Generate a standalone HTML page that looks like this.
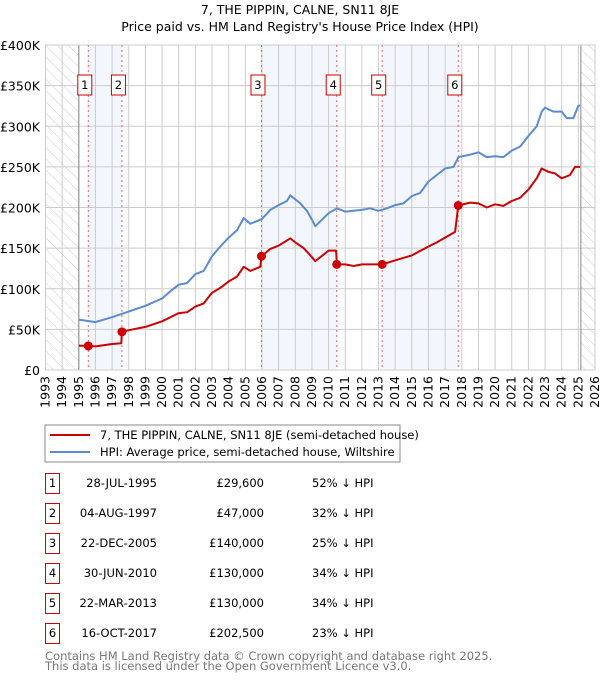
<!DOCTYPE html>
<html><head><meta charset="utf-8"><style>
body{margin:0;background:#fff;width:600px;height:680px;overflow:hidden;font-family:"DejaVu Sans","Liberation Sans",sans-serif}
svg text{font-family:"DejaVu Sans","Liberation Sans",sans-serif}
</style></head><body>
<svg id="c" width="600" height="680" xmlns="http://www.w3.org/2000/svg">
<defs><pattern id="hatch" width="8" height="8" patternUnits="userSpaceOnUse" patternTransform="rotate(-45)"><line x1="0" y1="0" x2="0" y2="8" stroke="#ccc" stroke-width="1"/></pattern></defs>
<text x="300" y="14" text-anchor="middle" font-size="12.5">7, THE PIPPIN, CALNE, SN11 8JE</text>
<text x="300" y="31" text-anchor="middle" font-size="12.5">Price paid vs. HM Land Registry's House Price Index (HPI)</text>
<g id="plot"></g>
<rect x="45" y="425" width="355" height="37" fill="#fff" stroke="#888"/>
<line x1="50" y1="435" x2="90" y2="435" stroke="#cc0000" stroke-width="2"/>
<text x="100" y="439" font-size="11.5">7, THE PIPPIN, CALNE, SN11 8JE (semi-detached house)</text>
<line x1="50" y1="452" x2="90" y2="452" stroke="#5b8bd0" stroke-width="2"/>
<text x="100" y="456" font-size="11.5">HPI: Average price, semi-detached house, Wiltshire</text>
<g id="table"></g>
<text x="45" y="660" font-size="11.5" fill="#777">Contains HM Land Registry data © Crown copyright and database right 2025.</text>
<text x="45" y="670" font-size="11.5" fill="#777">This data is licensed under the Open Government Licence v3.0.</text>
</svg>
<script>
const hpiYears=[1995,1996,1997,1998,1999,2000,2000.5,2001,2001.5,2002,2002.5,2003,2003.5,2004,2004.5,2004.9,2005.3,2006,2006.5,2007,2007.5,2007.7,2008,2008.3,2008.7,2009,2009.2,2009.5,2010,2010.5,2011,2011.5,2012,2012.5,2013,2013.5,2014,2014.5,2015,2015.5,2016,2016.5,2017,2017.5,2017.8,2018.5,2019,2019.5,2020,2020.5,2021,2021.5,2022,2022.5,2022.8,2023,2023.5,2024,2024.3,2024.7,2025,2025.1];
const hpiValues=[62,59,65,72,79,88,97,105,107,118,122,140,152,163,172,187,180,186,197,203,208,215,210,205,196,185,177,183,193,199,195,196,197,199,196,199,203,205,214,218,232,240,248,250,262,265,268,262,263,262,270,275,288,300,318,323,318,318,310,310,325,326];
const priceYears=[1995,1995.57,1996,1997,1997.55,1997.59,1998,1999,2000,2001,2001.5,2002,2002.5,2003,2003.5,2004,2004.5,2004.9,2005.3,2005.9,2005.97,2006.5,2007,2007.7,2008,2008.5,2009,2009.2,2010,2010.45,2010.5,2011,2011.5,2012,2013,2013.22,2014,2015,2016,2016.5,2017,2017.6,2017.79,2018.5,2019,2019.5,2020,2020.5,2021,2021.5,2022,2022.5,2022.8,2023.2,2023.6,2024,2024.5,2024.8,2025.1];
const priceValues=[30,29.6,29,32,33,47,49,53,60,70,71,78,82,95,101,109,115,127,122,127,140,149,153,162,157,150,139,134,147,147,130,130,128,130,130,130,135,141,152,157,163,170,202.5,206,205,200,204,202,208,212,222,236,248,244,242,236,240,250,250];
const saleYears=[1995.57,1997.59,2005.97,2010.49,2013.22,2017.79];
const saleValues=[29.6,47,140,130,130,202.5];
const saleLabels=["1","2","3","4","5","6"];
const saleDates=["28-JUL-1995","04-AUG-1997","22-DEC-2005","30-JUN-2010","22-MAR-2013","16-OCT-2017"];
const salePrices=["£29,600","£47,000","£140,000","£130,000","£130,000","£202,500"];
const saleHpi=["52% ↓ HPI","32% ↓ HPI","25% ↓ HPI","34% ↓ HPI","34% ↓ HPI","23% ↓ HPI"];
const yTicks=[0,50,100,150,200,250,300,350,400];
const yTickLabels=["£0","£50K","£100K","£150K","£200K","£250K","£300K","£350K","£400K"];
const xTicks=[1993,1994,1995,1996,1997,1998,1999,2000,2001,2002,2003,2004,2005,2006,2007,2008,2009,2010,2011,2012,2013,2014,2015,2016,2017,2018,2019,2020,2021,2022,2023,2024,2025,2026];

const NS="http://www.w3.org/2000/svg";
const L=45.5,R=595,T=45,B=370;
const X=y=>L+(y-1993)*(R-L)/33;
const Y=v=>B-v*(B-T)/400;
const g=document.getElementById('plot');
function mk(tag,at,parent){const e=document.createElementNS(NS,tag);for(const k in at)e.setAttribute(k,at[k]);(parent||g).appendChild(e);return e;}
[[0,1],[2,3],[4,5]].forEach((p,i)=>{
 const r=mk('rect',{x:X(saleYears[p[0]]),y:T,width:X(saleYears[p[1]])-X(saleYears[p[0]]),height:B-T,fill:'#eef3fc',opacity:0.7});
 
 
});
yTicks.forEach((v,i)=>{
 const l=mk('line',{x1:L,x2:R,y1:Y(v),y2:Y(v),stroke:'#ccc'});
 
 
 const t=mk('text',{x:40,y:Y(v)+5,'text-anchor':'end','font-size':'12.5'});t.textContent=yTickLabels[i];
 
 
});
xTicks.forEach(yr=>{
 const l=mk('line',{x1:X(yr),x2:X(yr),y1:T,y2:B,stroke:'#ccc'});
 
 
 const t=mk('text',{x:0,y:0,'font-size':'12.5','text-anchor':'end',transform:`translate(${X(yr)+4},${B+6}) rotate(-90)`});t.textContent=yr;
 
 
});
const h1=mk('rect',{x:L,y:T,width:X(1995)-L,height:B-T,fill:'url(#hatch)'});


const h2=mk('rect',{x:X(2025.15),y:T,width:R-X(2025.15),height:B-T,fill:'url(#hatch)'});


mk('line',{x1:X(1995),x2:X(1995),y1:T,y2:B,stroke:'#888'});
mk('line',{x1:X(2025.15),x2:X(2025.15),y1:T,y2:B,stroke:'#888'});
mk('rect',{x:L,y:T,width:R-L,height:B-T,fill:'none',stroke:'#ccc'});
saleYears.forEach((yr,i)=>{
 const l=mk('line',{x1:X(yr),x2:X(yr),y1:T,y2:B,stroke:'#f06060','stroke-dasharray':'2,3'});
 
 
});
function path(xs,vs,col,name){
 const d=xs.map((x,i)=>(i?'L':'M')+X(x).toFixed(1)+','+Y(vs[i]).toFixed(1)).join('');
 const p=mk('path',{d:d,fill:'none',stroke:col,'stroke-width':2,'stroke-linejoin':'round'});
 
 
}
path(hpiYears,hpiValues,'#5b8bd0','hpi-line');
path(priceYears,priceValues,'#cc0000','price-paid-line');
saleYears.forEach((yr,i)=>{
 const c=mk('circle',{cx:X(yr),cy:Y(saleValues[i]),r:4.5,fill:'#cc0000'});
 
 
 const b=mk('rect',{x:X(yr)-10.5,y:75,width:14,height:20,fill:'#fff',stroke:'#cc0000'});
 
 
 const t=mk('text',{x:X(yr)-3.5,y:89,'text-anchor':'middle','font-size':'11.5'});t.textContent=saleLabels[i];
 
 
});
const tb=document.getElementById('table');
saleLabels.forEach((lab,i)=>{
 const cy=483+i*30;
 const r=mk('rect',{x:45.5,y:cy-9.5,width:14,height:20,fill:'#fff',stroke:'#cc0000'},tb);
 
 
 const cells=[[52.5,lab,'middle'],[157,saleDates[i],'end'],[264,salePrices[i],'end'],[312,saleHpi[i],'start']];
 cells.forEach((c,j)=>{
  const t=mk('text',{x:c[0],y:cy+4,'text-anchor':c[2],'font-size':'11.5'},tb);t.textContent=c[1];
  
  
 });
});
</script>
</body></html>
